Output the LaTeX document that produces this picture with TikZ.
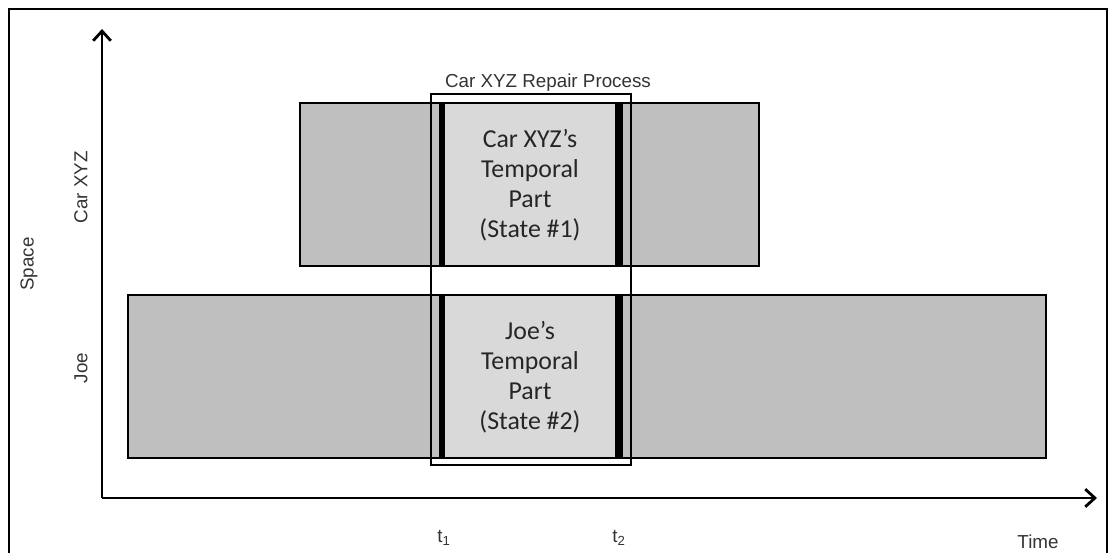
\documentclass[tikz,border=0pt]{standalone}
\usepackage{fontspec}
\setmainfont{Liberation Sans}
\newfontfamily\partfont{Carlito}
\usetikzlibrary{arrows.meta}
\definecolor{lifegray}{RGB}{191,191,191}
\definecolor{partgray}{RGB}{217,217,217}
\tikzset{
  lifebox/.style={draw=black, fill=lifegray, line width=0.7pt},
  partbox/.style={fill=partgray},
  bound/.style={fill=black},
  procbox/.style={draw=black, line width=0.9pt},
  axis/.style={line width=1.6pt, -{Straight Barb[length=5.5pt,width=10pt,line width=1.6pt]}},
  lbl/.style={font=\fontsize{10.7}{12}\selectfont, inner sep=0pt, text=black!80},
  parttext/.style={font=\partfont\fontsize{14.7}{17}\selectfont, align=center, inner sep=0pt, text=black!85},
}
\begin{document}
\begin{tikzpicture}[x=0.02cm, y=-0.02cm]
  \useasboundingbox (0,0) rectangle (1113,553);
  % outer frame
  \draw[line width=0.6pt] (9,9) rectangle (1107,570);
  % life lines of the two objects
  \draw[lifebox] (300,103) rectangle (759,266);
  \draw[lifebox] (128,295) rectangle (1046,458);
  % temporal parts
  \foreach \top/\bot in {103/266, 295/458}
    {
        \fill[partbox] (445,\top) rectangle (615,\bot);
        \fill[bound] (439,\top) rectangle (445,\bot);
        \fill[bound] (615,\top) rectangle (623,\bot);
        \draw[line width=0.7pt] (431,\top) -- (631,\top);
        \draw[line width=0.7pt] (431,\bot) -- (631,\bot);
    }
  \node[parttext] (carpart) at (530,185) {Car XYZ’s\\Temporal\\Part\\(State \#1)};
  \node[parttext] (joepart) at (530,377) {Joe’s\\Temporal\\Part\\(State \#2)};
  % repair process
  \draw[procbox] (431,94) rectangle (631,465);
  \node[lbl, anchor=base] (process) at (548,88) {Car XYZ Repair Process};
  % axes
  \coordinate (origin) at (102,498);
  \coordinate (spacetip) at (102,29);
  \coordinate (timetip) at (1097,498);
  \draw[axis] (origin) -- (spacetip);
  \draw[axis] (origin) -- (timetip);
  \node[lbl, rotate=90] (space) at (29,264) {Space};
  \node[lbl, rotate=90] (carlbl) at (81,187) {Car XYZ};
  \node[lbl, rotate=90] (joelbl) at (81,368) {Joe};
  \node[lbl] (t1) at (444,538) {t\textsubscript{1}};
  \node[lbl] (t2) at (619,538) {t\textsubscript{2}};
  \node[lbl] (time) at (1038,542) {Time};
\end{tikzpicture}
\end{document}
